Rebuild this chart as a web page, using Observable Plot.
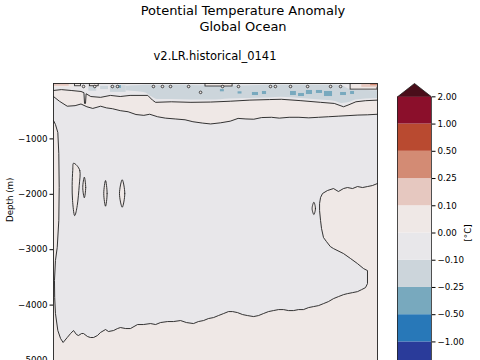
<!DOCTYPE html>
<html><head><meta charset="utf-8">
<script src="https://cdn.jsdelivr.net/npm/d3@7"></script>
<script src="https://cdn.jsdelivr.net/npm/@observablehq/plot@0.6"></script>
<style>
html,body{margin:0;padding:0;background:#fff;overflow:hidden;width:480px;height:360px;}
#wrap{position:relative;width:480px;height:360px;font-family:"DejaVu Sans",sans-serif;overflow:hidden;}
.t{position:absolute;text-align:center;color:#000;white-space:nowrap;}
#main{position:absolute;left:0;top:0;width:480px;}
#cbar{position:absolute;left:397px;top:0;width:120px;}
svg{max-width:none !important;}
</style></head><body>
<div id="wrap">
  <div id="main"></div>
  <div id="cbar"></div>
  <div class="t" style="left:3px;width:480px;top:3px;font-size:13px;line-height:15.5px">Potential Temperature Anomaly<br>Global Ocean</div>
  <div class="t" style="left:0;width:430px;top:50px;font-size:11.5px;line-height:13px">v2.LR.historical_0141</div>
</div>
<script>
// ---------------- data (years, depth in m) ----------------
const yTicks = [-1000, -2000, -3000, -4000, -5000];

// upper contour near the surface
const line1Year  = [1850,1854,1859,1864,1865.5,1865.8,1866.3,1866.6,1869,1874,1879,1884,1889,1898,1900.4,1902,1910,1920,1930,1940,1950,1960,1966,1976,1986,1993,1997.7,2000,2004,2009,2015];
const line1Depth = [-126,-110,-126,-144,-165,-360,-360,-185,-235,-250,-215,-235,-215,-215,-300,-340,-330,-340,-335,-320,-300,-290,-285,-310,-340,-360,-420,-390,-330,-310,-300];

// second contour (top of the cool interior)
const line2Year  = [1850,1853,1857,1861,1864,1867,1870,1874,1877,1880,1884,1888,1892,1896,1899,1903,1907,1912,1917,1921,1926,1930,1935,1940,1944,1948,1952,1956,1961,1965,1970,1975,1980,1985,1990,1995,2000,2005,2010,2015];
const line2Depth = [-235,-320,-410,-400,-370,-420,-450,-410,-440,-455,-490,-510,-560,-575,-555,-600,-625,-640,-655,-690,-715,-730,-710,-680,-630,-640,-645,-615,-610,-625,-610,-610,-620,-610,-600,-590,-580,-570,-565,-555];

// deep contour: left edge strip, bottom boundary, right warm intrusion
const deepYear  = [1850,1851,1852.2,1852.7,1852.9,1852.7,1851.9,1851,1850.5,1850.6,1851,1852.2,1853.6,
  1854.9,1857,1858.7,1860.2,1861.7,1862.7,1864.3,1865.3,1867.3,1868.8,1870.4,1872.4,1873.9,1876.5,1878,1880.6,1882.6,1884.1,1886.7,1889.2,1892.8,1895.8,1899.4,1902,1904.5,1908.1,1911.1,1914.7,1917.7,1921.3,1923.8,1926.4,1928.9,1931.5,1934,1936.6,1939.1,1941.2,1943.7,1946.3,1948.8,1951.9,1954.4,1956.9,1959.5,1962,1964.6,1967.1,1969.7,1972.2,1974.8,1977.3,1979.9,1982.4,1985,1987.5,1990,1992.6,1995.1,1997.7,1999.7,2002.3,2004.8,2006.9,2008.9,2009.9,
  2009.9,2007.9,2004.8,2001.3,1997.7,1992.6,1991,1989,1987.5,1986.5,1986,1985.5,1985.5,1986,1987,1989.5,1992.6,1995.1,1997.7,1999.7,2002.3,2004.8,2007.4,2009.9,2012.4,2015];
const deepDepth = [-668,-740,-884,-1264,-1877,-2473,-2960,-3195,-3556,-3863,-4152,-4458,-4603,
  -4675,-4585,-4513,-4459,-4531,-4549,-4513,-4513,-4567,-4585,-4585,-4549,-4495,-4441,-4477,-4459,-4423,-4405,-4423,-4423,-4351,-4351,-4333,-4351,-4315,-4297,-4297,-4279,-4315,-4333,-4297,-4279,-4243,-4225,-4189,-4153,-4117,-4117,-4135,-4171,-4189,-4207,-4189,-4153,-4117,-4099,-4081,-4081,-4099,-4099,-4081,-4081,-4045,-4027,-4009,-3973,-3937,-3883,-3847,-3811,-3793,-3775,-3757,-3721,-3684,-3612,
  -3377,-3341,-3251,-3160,-3070,-2980,-2944,-2853,-2781,-2618,-2474,-2293,-2167,-2058,-1986,-1932,-1896,-1950,-1896,-1878,-1896,-1860,-1878,-1860,-1842,-1805];

// small closed contours (warm islands)
const loopId    = [1,1,1,1,1,1,1,1, 2,2,2,2, 3,3,3,3, 4,4,4,4, 5,5,5,5];
const loopYear  = [1860.3,1863.4,1863.1,1862.1,1860.7,1859.7,1859.5,1859.8, 1865.7,1866.4,1865.7,1864.9, 1876.5,1877.3,1876.5,1875.6, 1885,1886.3,1885,1883.6, 1982.6,1983.4,1982.6,1981.7];
const loopDepth = [-1439,-1570,-1841,-2202,-2383,-2112,-1841,-1570, -1691,-1877,-2063,-1877, -1751,-1986,-2215,-1986, -1738,-1986,-2233,-1986, -2143,-2256,-2365,-2256];

// cool near-surface band (-0.25 .. -0.1)
const bandYear = [1887,1893,1897,1900,1903,1910,1920,1930,1940,1950,1960,1966,1976,1986,1993,1997,2001,2004,2009,2015];
const bandTop  = [-50,-40,-30,-30,-35,-30,-35,-40,-45,-40,-30,-30,-30,-30,-30,-40,-110,-120,-125,-130];
const bandBot  = [-130,-150,-170,-240,-290,-290,-300,-300,-280,-270,-260,-250,-270,-300,-320,-360,-340,-300,-280,-270];

// near-surface patches: [year0, year1, depth0, depth1, level index, outlined]
const patchY0 = [1874,1879,1889,1868,  1951.3,1956.4,1970.7,1974.8,1978.8,1983.9,1988,1996.2,2001.3,1883.1,1935,1944,  1850,1850,1861,1868.5,1927.4,2001.3,2007,2011.5];
const patchY1 = [1878,1887,1895,1872,  1954.4,1958.5,1973.7,1977.8,1981.9,1987,1992.1,1999.2,2003.3,1884.6,1937,1946,  1860.2,1858,1864,1873,1941.2,2015,2015,2015];
const patchD0 = [-50,-40,-50,-60,      -162,-144,-144,-180,-126,-126,-144,-162,-144,-36,-110,-150,  0,0,0,0,0,0,0,0];
const patchD1 = [-110,-160,-130,-140,  -217,-199,-217,-235,-199,-180,-235,-217,-199,-90,-150,-190,  -72,-50,-50,-50,-54,-110,-70,-40];
const patchLev = [3,3,3,3, 2,2,2,2,2,2,2,2,2,2,2,2, 5,6,5,5,5,5,6,7];
const patchOutlined = [0,0,0,0, 0,0,0,0,0,0,0,0,0,0,0,0, 0,0,1,1,1,1,0,0];

// tiny contour loops at the surface
const dotYear  = [1865.3,1871,1880,1882.6,1900.9,1905.5,1909.6,1918.8,1924.9,1936.1,1944.2,1960.5,1963,1970.7,1979.4,1991.1,1996.2];
const dotDepth = [-54,-54,-54,-54,-54,-54,-54,-54,-160,-54,-54,-54,-54,-54,-54,-54,-54];

// colour levels
const cbLevels = [-2, -1, -0.5, -0.25, -0.1, 0, 0.1, 0.25, 0.5, 1, 2];
const cbColors = ["#2a3b9a","#2878b8","#78a9be","#ccd5db","#e8e7ea","#efe8e6","#e6c8c0","#d38b74","#b94a30","#8b0f2b"];
const cbOver = "#4a0e1a", cbUnder = "#1c2266";

// ---------------- build tables ----------------
const pts = (xs, ys) => xs.map((x, i) => ({x, y: ys[i]}));
const line1 = pts(line1Year, line1Depth);
const line2 = pts(line2Year, line2Depth);
const deep = pts(deepYear, deepDepth);
const greyPoly = line2.concat(deep.slice().reverse());
const loops = loopYear.map((x, i) => ({x, y: loopDepth[i], id: loopId[i]}));
const band = bandYear.map((x, i) => ({x, y1: bandTop[i], y2: bandBot[i]}));
const patches = patchY0.map((x1, i) => ({x1, x2: patchY1[i], y1: patchD0[i], y2: patchD1[i], fill: cbColors[patchLev[i]], o: patchOutlined[i]}));
const dots = pts(dotYear, dotDepth);

const GREY = cbColors[4], PINK = cbColors[5], LINE = "#1e1e1e";
const FS = 8.7;

const main = Plot.plot({
  width: 480, height: 400,
  marginTop: 83, marginLeft: 53, marginRight: 103, marginBottom: 40,
  x: {domain: [1850, 2015], axis: null},
  y: {domain: [-5000, 0], ticks: yTicks, tickFormat: d3.format("d"), tickSize: 3.5, tickPadding: 2.5, label: null},
  style: {fontFamily: "DejaVu Sans", fontSize: FS + "px", background: "transparent", color: "#000", maxWidth: "none"},
  marks: [
    Plot.frame({fill: PINK, stroke: "none"}),
    Plot.areaY(line1, {x: "x", y1: 0, y2: "y", fill: GREY}),
    Plot.areaY(band, {x: "x", y1: "y1", y2: "y2", fill: cbColors[3], curve: "monotone-x"}),
    Plot.rect(patches, {x1: "x1", x2: "x2", y1: "y1", y2: "y2", fill: "fill", stroke: d => d.o ? LINE : "none", strokeWidth: 0.8, clip: true}),
    Plot.line(greyPoly, {x: "x", y: "y", fill: GREY, stroke: "none"}),
    Plot.line(loops, {x: "x", y: "y", z: "id", curve: "cardinal-closed", fill: PINK, stroke: LINE, strokeWidth: 0.9}),
    Plot.line(line1, {x: "x", y: "y", stroke: LINE, strokeWidth: 0.9}),
    Plot.line(line2, {x: "x", y: "y", stroke: LINE, strokeWidth: 0.9}),
    Plot.line(deep, {x: "x", y: "y", stroke: LINE, strokeWidth: 0.9}),
    Plot.dot(dots, {x: "x", y: "y", r: 1.3, stroke: LINE, fill: PINK, strokeWidth: 0.8}),
    Plot.frame({stroke: "#222", strokeWidth: 0.9}),
    Plot.text(["Depth (m)"], {frameAnchor: "left", dx: -43, dy: 0, rotate: -90, fontSize: FS})
  ]
});
document.getElementById("main").appendChild(main);

// ---------------- colour bar ----------------
const n = cbColors.length;
const ext = 0.49;
const cbRects = cbColors.map((c, i) => ({y1: i, y2: i + 1, fill: c}));
const triTop = [{x: 0, y: n}, {x: 0.5, y: n + ext}, {x: 1, y: n}];
const triBot = [{x: 0, y: 0}, {x: 0.5, y: -ext}, {x: 1, y: 0}];
const outline = [{x: 0, y: 0}, {x: 0, y: n}, {x: 0.5, y: n + ext}, {x: 1, y: n}, {x: 1, y: 0}, {x: 0.5, y: -ext}, {x: 0, y: 0}];

const cbar = Plot.plot({
  width: 84, height: 400,
  marginTop: 83, marginBottom: 18, marginLeft: 0, marginRight: 50,
  x: {domain: [0, 1], axis: null},
  y: {domain: [-ext, n + ext], axis: "right", ticks: d3.range(1, n + 1), tickFormat: i => d3.format(".2f")(cbLevels[i]),
      tickSize: 3.5, tickPadding: 2.5, label: null},
  style: {fontFamily: "DejaVu Sans", fontSize: FS + "px", background: "transparent", color: "#000", maxWidth: "none"},
  marks: [
    Plot.rect(cbRects, {x1: 0, x2: 1, y1: "y1", y2: "y2", fill: "fill"}),
    Plot.line(triTop, {x: "x", y: "y", fill: cbOver, stroke: "none"}),
    Plot.line(triBot, {x: "x", y: "y", fill: cbUnder, stroke: "none"}),
    Plot.line(outline, {x: "x", y: "y", stroke: "#222", strokeWidth: 0.8, fill: "none"}),
    Plot.text(["[°C]"], {frameAnchor: "middle", dx: 54, rotate: -90, fontSize: FS})
  ]
});
document.getElementById("cbar").appendChild(cbar);
</script>
</body></html>
